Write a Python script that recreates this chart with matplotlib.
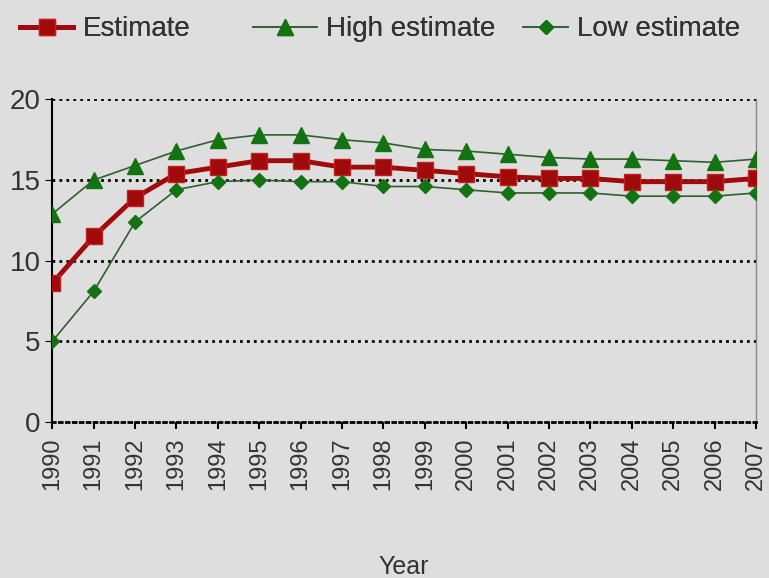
import matplotlib.pyplot as plt
from matplotlib.lines import Line2D

# --- data ---
years = list(range(1990, 2008))
estimate = [8.6, 11.5, 13.9, 15.4, 15.8, 16.2, 16.2, 15.8, 15.8, 15.6,
            15.4, 15.2, 15.1, 15.1, 14.9, 14.9, 14.9, 15.1]
high_est = [12.9, 15.0, 15.9, 16.8, 17.5, 17.8, 17.8, 17.5, 17.3, 16.9,
            16.8, 16.6, 16.4, 16.3, 16.3, 16.2, 16.1, 16.3]
low_est = [5.0, 8.1, 12.4, 14.4, 14.9, 15.0, 14.9, 14.9, 14.6, 14.6,
           14.4, 14.2, 14.2, 14.2, 14.0, 14.0, 14.0, 14.2]
labels = ["Estimate", "High estimate", "Low estimate"]

bg = "#dedede"
red = "#a00a0a"
green = "#137313"
gline = "#2f5f2f"

plt.rcParams['font.family'] = ['Liberation Sans', 'DejaVu Sans']

fig = plt.figure(figsize=(7.69, 5.78), dpi=100, facecolor=bg)
ax = fig.add_axes([0.068, 0.27, 0.915, 0.558], facecolor=bg)

styles = [
    dict(color=red, lw=3.5, marker='s', markersize=12,
         markerfacecolor=red, markeredgecolor="#c02020"),
    dict(color=gline, lw=1.2, marker='^', markersize=11,
         markerfacecolor=green, markeredgecolor=green),
    dict(color=gline, lw=1.2, marker='D', markersize=7,
         markerfacecolor=green, markeredgecolor=green),
]

ax.plot(years, estimate, zorder=3, **styles[0])
ax.plot(years, high_est, zorder=4, **styles[1])
ax.plot(years, low_est, zorder=5, **styles[2])

ax.set_xlim(1990, 2007)
ax.set_ylim(0, 20)
ax.set_yticks([0, 5, 10, 15, 20])
ax.set_xticks(years)
ax.set_xticklabels([str(y) for y in years], rotation=90, fontsize=17,
                   color="#333333")
ax.tick_params(axis='y', labelsize=20, labelcolor="#333333", length=5,
               direction='out', color='black')
ax.tick_params(axis='x', length=5, direction='out', width=1.5, pad=6)

for v in [5, 10, 15, 20]:
    ax.axhline(v, color='black', lw=2, ls=(0, (1, 1.5)), zorder=1)

ax.spines['top'].set_visible(False)
ax.spines['left'].set_color('black')
ax.spines['left'].set_linewidth(1.5)
ax.spines['right'].set_color('#888888')
ax.spines['right'].set_linewidth(1)
ax.spines['bottom'].set_linestyle((0, (1, 1.5)))
ax.spines['bottom'].set_linewidth(2)

ax.set_xlabel("Year", fontsize=18, color="#333333", labelpad=47)

# legend entries placed one by one, like the uneven spacing in the original
legend_x = [-0.006, 0.296, 0.648]
legend_len = [1.9, 2.3, 1.6]
for i in range(3):
    h = Line2D([], [], **styles[i])
    leg = fig.legend([h], [labels[i]], loc='upper left',
                     bbox_to_anchor=(legend_x[i], 1.015), frameon=False,
                     fontsize=20, handlelength=legend_len[i],
                     handletextpad=0.35, labelcolor="#333333")
    fig.add_artist(leg)

fig.savefig("out.png", dpi=100, facecolor=bg)
